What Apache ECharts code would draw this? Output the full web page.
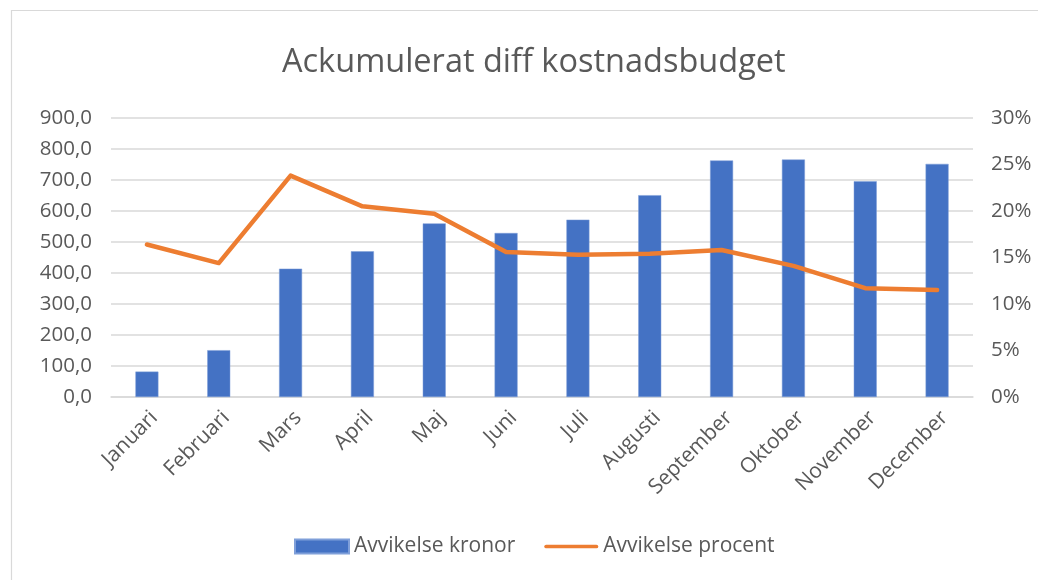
<!DOCTYPE html>
<html>
<head>
<meta charset="utf-8">
<script src="https://cdn.jsdelivr.net/npm/echarts@6/dist/echarts.min.js"></script>
<style>html,body{margin:0;padding:0;background:#fff;}#c{width:1038px;height:580px;}</style>
</head>
<body>
<div id="c"></div>
<script>
const categories = ['Januari','Februari','Mars','April','Maj','Juni','Juli','Augusti','September','Oktober','November','December'];
const kronor = [82, 151, 414, 470, 560, 529, 572, 651, 763, 766, 696, 752];
const procent = [16.4, 14.4, 23.8, 20.5, 19.7, 15.6, 15.3, 15.4, 15.8, 14.1, 11.7, 11.5];
const leftTicks = [0, 900, 100];
const rightTicks = [0, 30, 5];

const FONT = '"Open Sans", "Noto Sans", sans-serif';
const chart = echarts.init(document.getElementById('c'), null, {renderer: 'canvas'});
chart.setOption({
  animation: false,
  backgroundColor: '#fff',
  textStyle: {fontFamily: FONT},
  graphic: [{
    type: 'rect', silent: true, z: -1,
    shape: {x: 11.5, y: 10.5, width: 1200, height: 800},
    style: {fill: null, stroke: '#d9d9d9', lineWidth: 1.2}
  }],
  title: {
    text: 'Ackumulerat diff kostnadsbudget',
    left: 277, top: 41,
    textStyle: {fontFamily: FONT, fontSize: 32.5, fontWeight: 'normal', color: '#595959'}
  },
  legend: {
    top: 531, left: 289,
    itemGap: 29, itemWidth: 54, itemHeight: 14,
    textStyle: {fontFamily: FONT, fontSize: 21, color: '#595959'},
    data: [
      {name: 'Avvikelse kronor', icon: 'rect'},
      {name: 'Avvikelse procent', icon: 'path://M2,0 h54 a2,2 0 0 1 0,4 h-54 a2,2 0 0 1 0,-4 Z', itemStyle: {color: '#ed7d31'}}
    ]
  },
  grid: {left: 111, right: 65, top: 118, bottom: 183, containLabel: false},
  xAxis: {
    type: 'category', data: categories,
    axisLine: {lineStyle: {color: '#d9d9d9', width: 1.5}},
    axisTick: {show: false},
    axisLabel: {rotate: 45, interval: 0, fontSize: 21, color: '#595959', fontFamily: FONT, margin: 10,
      verticalAlign: 'top'}
  },
  yAxis: [{
    type: 'value', min: leftTicks[0], max: leftTicks[1], interval: leftTicks[2],
    axisLine: {show: false}, axisTick: {show: false},
    splitLine: {lineStyle: {color: '#d9d9d9', width: 1.5}},
    axisLabel: {fontSize: 20.5, color: '#595959', fontFamily: FONT, margin: 19,
      formatter: v => v.toFixed(1).replace('.', ',')}
  }, {
    type: 'value', min: rightTicks[0], max: rightTicks[1], interval: rightTicks[2],
    axisLine: {show: false}, axisTick: {show: false}, splitLine: {show: false},
    axisLabel: {fontSize: 20.5, color: '#595959', fontFamily: FONT, margin: 18,
      formatter: v => v + '%'}
  }],
  series: [{
    name: 'Avvikelse kronor', type: 'bar', data: kronor, yAxisIndex: 0,
    barWidth: 23, itemStyle: {color: '#4472c4', borderColor: '#7f9fd9', borderWidth: 0.5}
  }, {
    name: 'Avvikelse procent', type: 'line', data: procent, yAxisIndex: 1,
    symbol: 'none', lineStyle: {color: '#ed7d31', width: 4.5, cap: 'round', join: 'round'},
    itemStyle: {color: '#ed7d31'}
  }]
});
</script>
</body>
</html>
